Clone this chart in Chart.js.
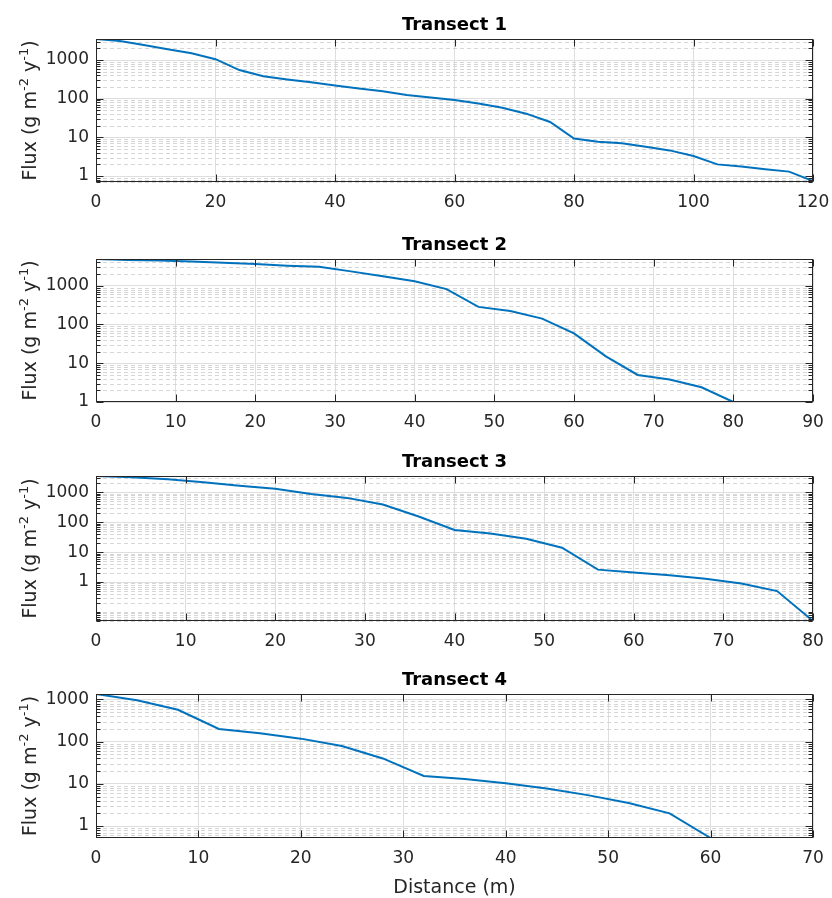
<!DOCTYPE html>
<html>
<head>
<meta charset="utf-8">
<script src="https://cdn.jsdelivr.net/npm/chart.js@4.4.0/dist/chart.umd.min.js"></script>
<style>
  html, body { margin: 0; padding: 0; background: #fff; }
  #wrap { position: relative; width: 832px; height: 898px; overflow: hidden; }
  canvas { position: absolute; left: 0; }
</style>
</head>
<body>
<div id="wrap">
  <canvas id="t1"></canvas>
  <canvas id="t2"></canvas>
  <canvas id="t3"></canvas>
  <canvas id="t4"></canvas>
</div>
<script>
// Distance along each transect (m)
const distance1 = [0, 4, 8, 12, 16, 20, 24, 28, 32, 36, 40, 44, 48, 52, 56, 60, 64, 68, 72, 76, 80, 84, 88, 92, 96, 100, 104, 108, 112, 116, 120];
const distance2 = [0, 4, 8, 12, 16, 20, 24, 28, 32, 36, 40, 44, 48, 52, 56, 60, 64, 68, 72, 76, 80];
const distance3 = [0, 4, 8, 12, 16, 20, 24, 28, 32, 36, 40, 44, 48, 52, 56, 60, 64, 68, 72, 76, 80];
const distance4 = [0, 4, 8, 12, 16, 20, 24, 28, 32, 36, 40, 44, 48, 52, 56, 60];

// Flux (g m-2 y-1)
const flux1 = [3500, 3100, 2450, 1900, 1500, 1050, 550, 380, 315, 265, 220, 183, 155, 125, 107, 92, 75, 58, 41, 25, 9.3, 7.7, 7.0, 5.7, 4.6, 3.3, 2.0, 1.75, 1.5, 1.3, 0.74];
const flux2 = [4900, 4650, 4500, 4200, 3900, 3650, 3300, 3100, 2350, 1750, 1300, 820, 285, 222, 142, 59, 15, 5.0, 3.8, 2.4, 1.0];
const flux3 = [3500, 3200, 2700, 2150, 1650, 1320, 880, 650, 390, 155, 55, 42, 28, 14, 2.6, 2.1, 1.7, 1.3, 0.89, 0.50, 0.05];
const flux4 = [1350, 960, 570, 200, 158, 118, 79, 40, 15.4, 13, 10.3, 7.8, 5.4, 3.5, 2.0, 0.52];

const titles = ['Transect 1', 'Transect 2', 'Transect 3', 'Transect 4'];
const xMax = [120, 90, 80, 70];
const xStep = [20, 10, 10, 10];
const yTickValues = [1, 10, 100, 1000];

const FONT = '"DejaVu Sans", sans-serif';
const TEXT = '#262626';
const LINE = '#0072BD';

// plot area placement on the page
const panels = [
    {top: 39, bottom: 182},
    {top: 259, bottom: 402},
    {top: 476, bottom: 621},
    {top: 694, bottom: 838}
];

function minorValues(min, max) {
    let out = [];
    for (let d = Math.floor(Math.log10(min)); d <= Math.ceil(Math.log10(max)); d++) {
        for (let k = 1; k <= 9; k++) {
            let v = k * Math.pow(10, d);
            if (v >= min && v <= max && yTickValues.indexOf(v) < 0)
                out.push(v);
        }
    }
    return out;
}

function drawYLabel(ctx, cx, cy) {
    const big = '19px ' + FONT, small = '13px ' + FONT;
    const parts = [['Flux (g m', big, 0], ['-2', small, -8], [' y', big, 0], ['-1', small, -8], [')', big, 0]];
    let total = 0;
    parts.forEach(p => { ctx.font = p[1]; total += ctx.measureText(p[0]).width; });
    ctx.save();
    ctx.translate(cx, cy);
    ctx.rotate(-Math.PI / 2);
    ctx.fillStyle = TEXT;
    ctx.textAlign = 'left';
    ctx.textBaseline = 'alphabetic';
    let px = -total / 2;
    parts.forEach(p => {
        ctx.font = p[1];
        ctx.fillText(p[0], px, p[2]);
        px += ctx.measureText(p[0]).width;
    });
    ctx.restore();
}

const matlabAxes = {
    id: 'matlabAxes',
    beforeDatasetsDraw(chart) {
        const {ctx, chartArea: a, scales: {y}} = chart;
        ctx.save();
        ctx.strokeStyle = '#d6d6d6';
        ctx.lineWidth = 1;
        ctx.setLineDash([4, 3]);
        minorValues(y.min, y.max).forEach(v => {
            const py = Math.round(y.getPixelForValue(v)) + 0.5;
            ctx.beginPath();
            ctx.moveTo(a.left, py);
            ctx.lineTo(a.right, py);
            ctx.stroke();
        });
        ctx.restore();
    },
    afterDatasetsDraw(chart, args, opts) {
        const {ctx, chartArea: a, scales: {x, y}} = chart;
        const l = Math.round(a.left) + 0.5, r = Math.round(a.right) - 0.5;
        const t = Math.round(a.top) + 0.5, b = Math.round(a.bottom) - 0.5;
        ctx.save();
        ctx.strokeStyle = TEXT;
        ctx.lineWidth = 1;
        ctx.beginPath();
        x.ticks.forEach(tk => {
            const px = Math.round(x.getPixelForValue(tk.value)) + 0.5;
            ctx.moveTo(px, b); ctx.lineTo(px, b - 7);
            ctx.moveTo(px, t); ctx.lineTo(px, t + 7);
        });
        y.ticks.forEach(tk => {
            const py = Math.round(y.getPixelForValue(tk.value)) + 0.5;
            ctx.moveTo(l, py); ctx.lineTo(l + 7, py);
            ctx.moveTo(r, py); ctx.lineTo(r - 7, py);
        });
        minorValues(y.min, y.max).forEach(v => {
            const py = Math.round(y.getPixelForValue(v)) + 0.5;
            ctx.moveTo(l, py); ctx.lineTo(l + 4, py);
            ctx.moveTo(r, py); ctx.lineTo(r - 4, py);
        });
        ctx.stroke();
        ctx.strokeRect(l, t, r - l, b - t);

        // title
        ctx.fillStyle = '#000';
        ctx.font = 'bold 18px ' + FONT;
        ctx.textAlign = 'center';
        ctx.textBaseline = 'alphabetic';
        ctx.fillText(opts.title, (a.left + a.right) / 2, a.top - 9.5);

        drawYLabel(ctx, 36, (a.top + a.bottom) / 2);

        if (opts.xLabel) {
            ctx.fillStyle = TEXT;
            ctx.font = '19px ' + FONT;
            ctx.textBaseline = 'middle';
            ctx.fillText(opts.xLabel, (a.left + a.right) / 2, a.bottom + 50);
        }
        ctx.restore();
    }
};

function drawPanel(i, distance, flux) {
    const canvas = document.getElementById('t' + (i + 1));
    const p = panels[i];
    const padTop = 36, axisH = 30;
    const last = i === panels.length - 1;
    const height = last ? 898 - (p.top - padTop) : padTop + (p.bottom - p.top) + axisH + 4;
    // canvas runs past the right page edge so the last x label never squeezes the plot
    canvas.style.top = (p.top - padTop) + 'px';
    canvas.width = 870;
    canvas.height = height;
    const padBottom = height - padTop - (p.bottom - p.top) - axisH;

    new Chart(canvas, {
        type: 'line',
        data: {
            datasets: [{
                data: distance.map((d, k) => ({x: d, y: flux[k]})),
                borderColor: LINE,
                borderWidth: 2,
                pointRadius: 0,
                tension: 0,
                fill: false
            }]
        },
        options: {
            responsive: false,
            animation: false,
            events: [],
            layout: {padding: {top: padTop, bottom: padBottom, left: 0, right: 870 - 813}},
            plugins: {
                legend: {display: false},
                tooltip: {enabled: false},
                matlabAxes: {title: titles[i], xLabel: last ? 'Distance (m)' : null}
            },
            scales: {
                x: {
                    type: 'linear',
                    min: 0,
                    max: xMax[i],
                    afterFit: s => { s.height = axisH; },
                    ticks: {
                        stepSize: xStep[i],
                        color: TEXT,
                        font: {family: FONT, size: 17},
                        padding: 10,
                        maxRotation: 0
                    },
                    grid: {color: '#dedede', drawTicks: false},
                    border: {display: false}
                },
                y: {
                    type: 'logarithmic',
                    min: Math.min(...flux),
                    max: Math.max(...flux),
                    afterBuildTicks: s => {
                        s.ticks = yTickValues.filter(v => v >= s.min && v <= s.max).map(v => ({value: v}));
                    },
                    afterFit: s => { s.width = 96; },
                    ticks: {
                        callback: v => String(v),
                        color: TEXT,
                        font: {family: FONT, size: 17},
                        padding: 7,
                        autoSkip: false
                    },
                    grid: {color: '#dedede', drawTicks: false},
                    border: {display: false}
                }
            }
        },
        plugins: [matlabAxes]
    });
}

drawPanel(0, distance1, flux1);
drawPanel(1, distance2, flux2);
drawPanel(2, distance3, flux3);
drawPanel(3, distance4, flux4);
</script>
</body>
</html>
